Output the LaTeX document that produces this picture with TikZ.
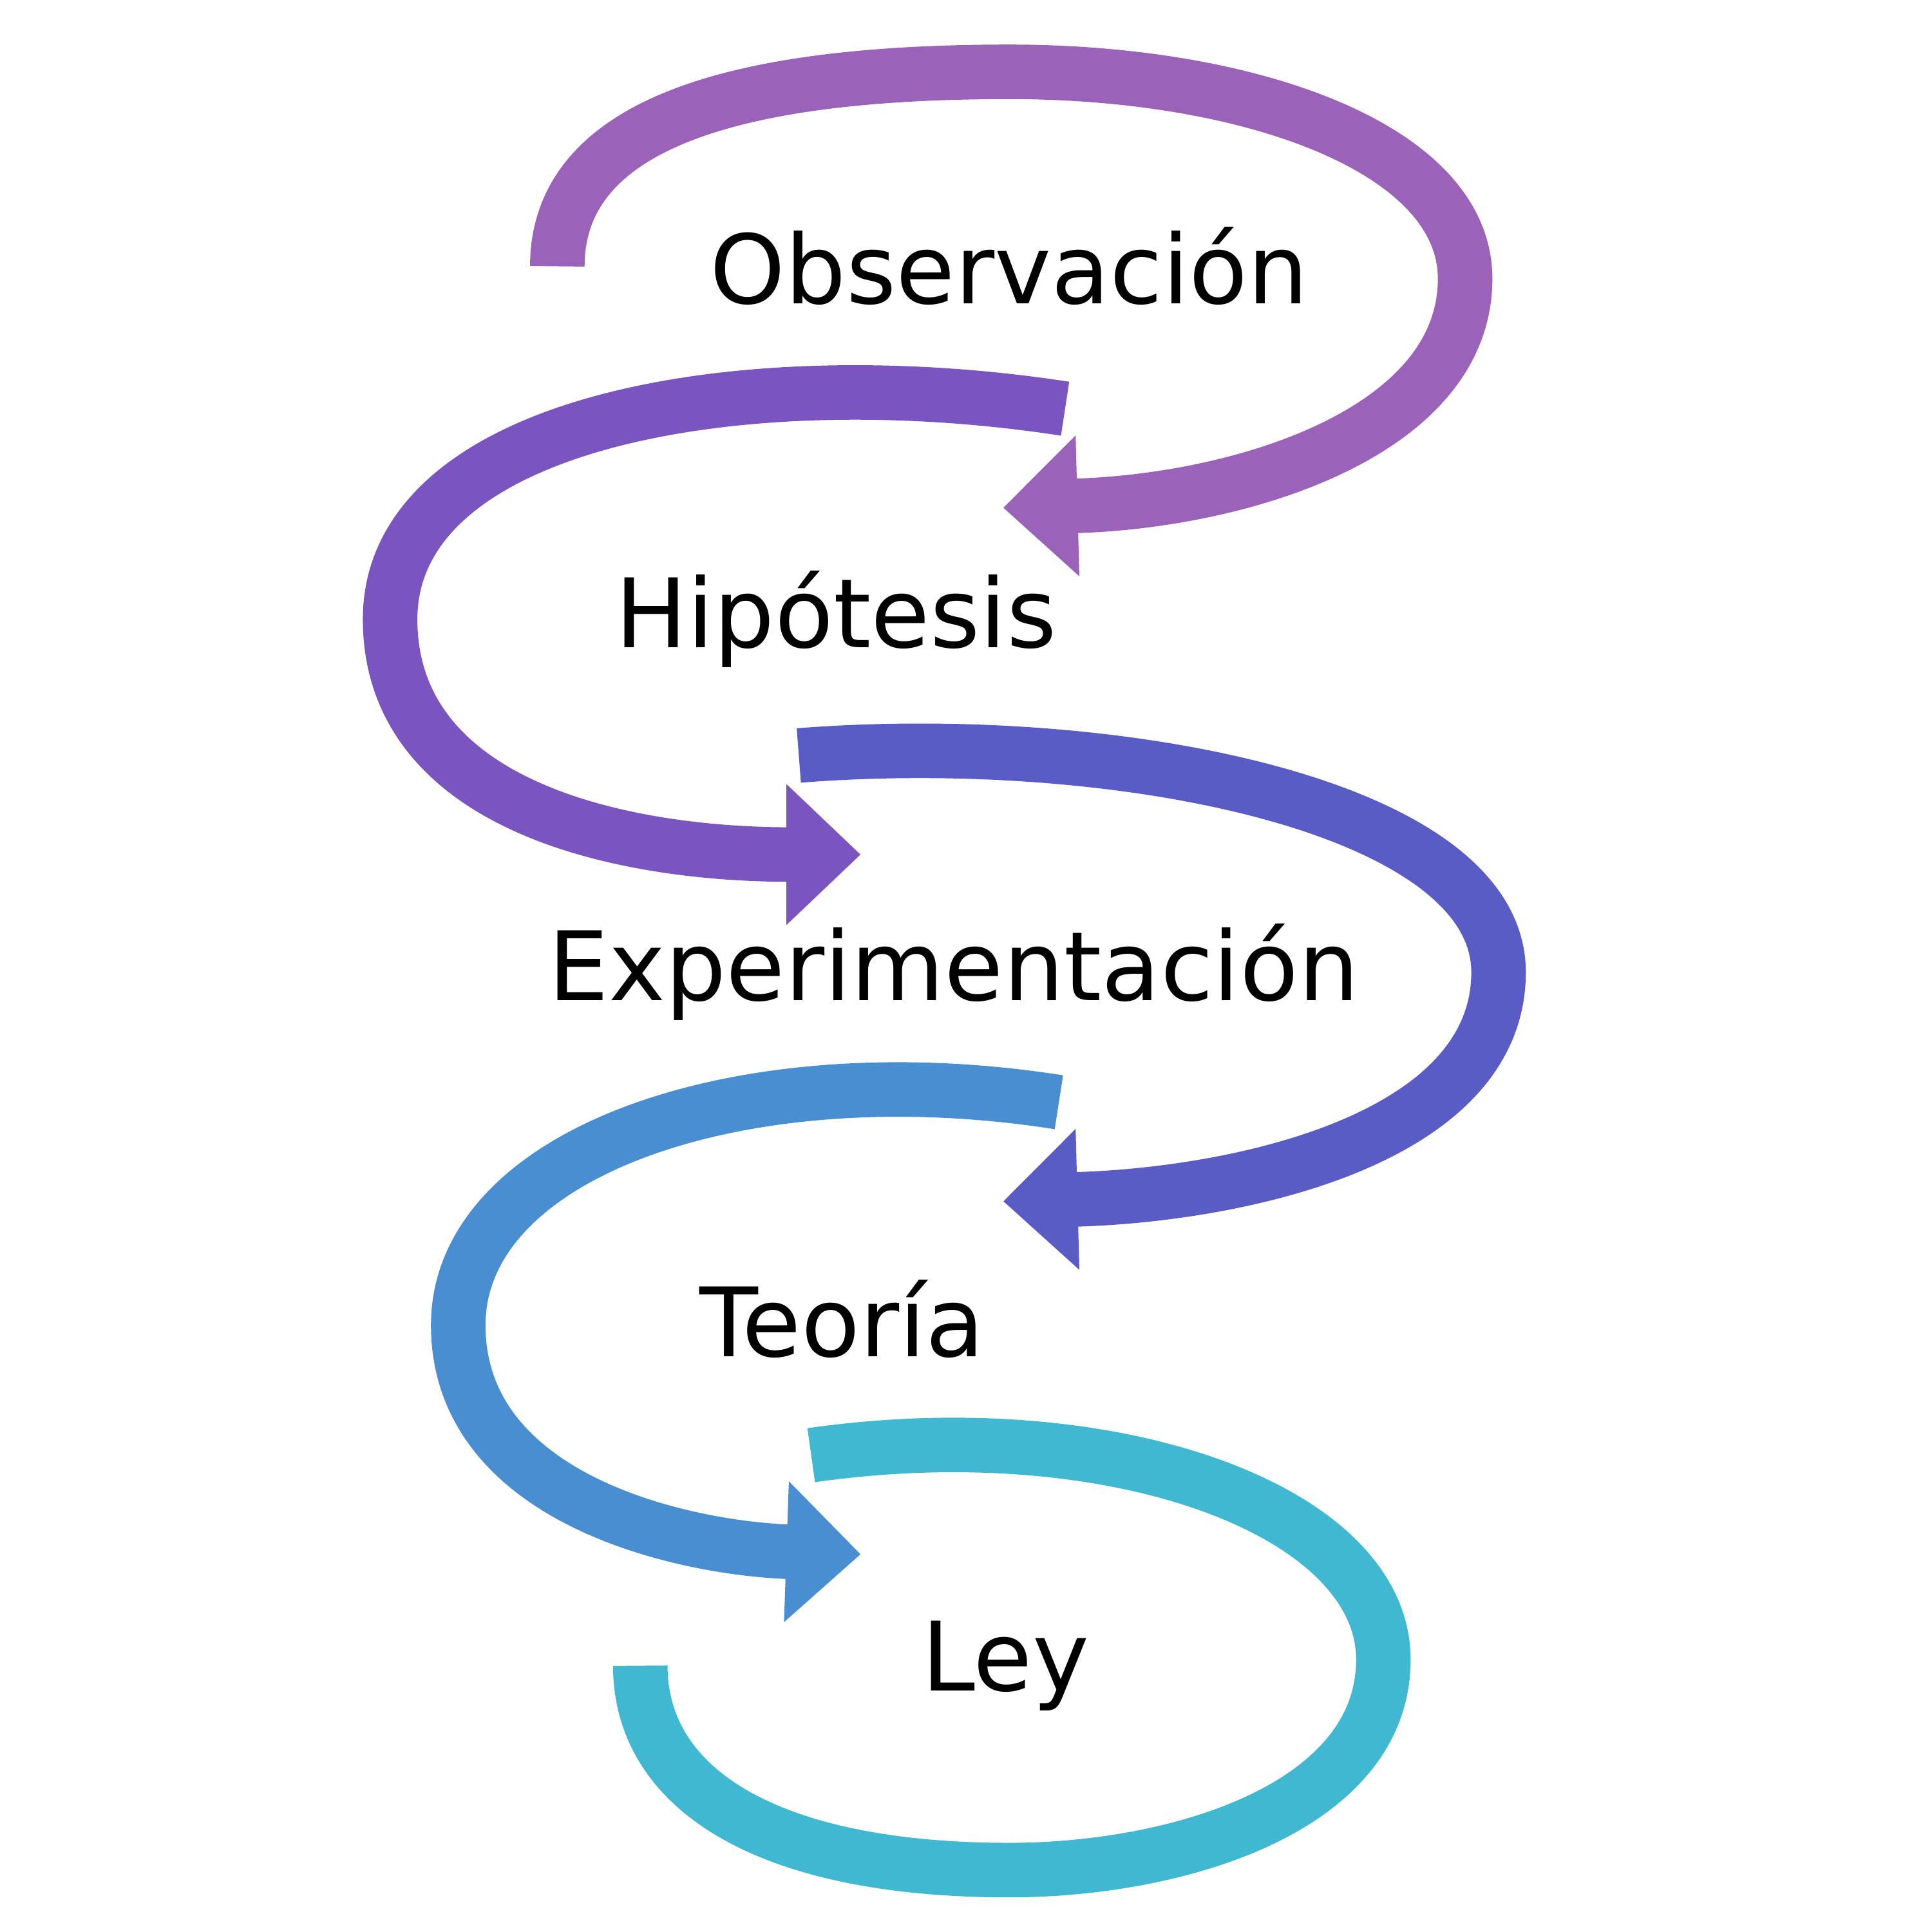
\documentclass[tikz,border=0pt]{standalone}
\usepackage{fontspec}
\setmainfont{DejaVu Sans}
\usetikzlibrary{arrows.meta}
\definecolor{c1}{HTML}{9A62B8}
\definecolor{c2}{HTML}{7A55C0}
\definecolor{c3}{HTML}{5A5CC6}
\definecolor{c4}{HTML}{4A8ED2}
\definecolor{c5}{HTML}{40B8D2}
\begin{document}
\begin{tikzpicture}[x=0.01cm,y=-0.01cm,
  band/.style={line width=0.44cm,draw=#1},
  tipped/.style={band=#1,-{Triangle[width=1.1cm,length=0.6cm]}},
  lbl/.style={font=\fontsize{22}{26}\selectfont,text=black}]
\useasboundingbox (0,0) rectangle (1560,1560);
\coordinate (s1) at (450,215);
\coordinate (e1) at (810,410);
\draw[tipped=c1] (s1) .. controls (450,90) and (620,58) .. (815,58) .. controls (1010,58) and (1183,120) .. (1183,225) .. controls (1183,350) and (1000,405) .. (e1);
\coordinate (s2) at (860,330);
\coordinate (e2) at (695,690);
\draw[tipped=c2] (s2) .. controls (600,290) and (315,340) .. (315,500) .. controls (315,650) and (500,690) .. (e2);
\coordinate (s3) at (645,610);
\coordinate (e3) at (810,970);
\draw[tipped=c3] (s3) .. controls (900,590) and (1210,650) .. (1210,785) .. controls (1210,920) and (1000,965) .. (e3);
\coordinate (s4) at (855,890);
\coordinate (e4) at (695,1255);
\draw[tipped=c4] (s4) .. controls (600,850) and (370,930) .. (370,1070) .. controls (370,1210) and (550,1250) .. (e4);
\coordinate (s5) at (655,1175);
\coordinate (e5) at (517,1345);
\draw[band=c5] (s5) .. controls (900,1140) and (1117,1220) .. (1117,1340) .. controls (1117,1460) and (950,1510) .. (815,1510) .. controls (620,1510) and (517,1445) .. (e5);
\node[lbl] (t1) at (815,215) {Observación};
\node[lbl] (t2) at (675,500) {Hipótesis};
\node[lbl] (t3) at (770,785) {Experimentación};
\node[lbl] (t4) at (680,1065) {Teoría};
\node[lbl] (t5) at (812,1345) {Ley};
\end{tikzpicture}
\end{document}
